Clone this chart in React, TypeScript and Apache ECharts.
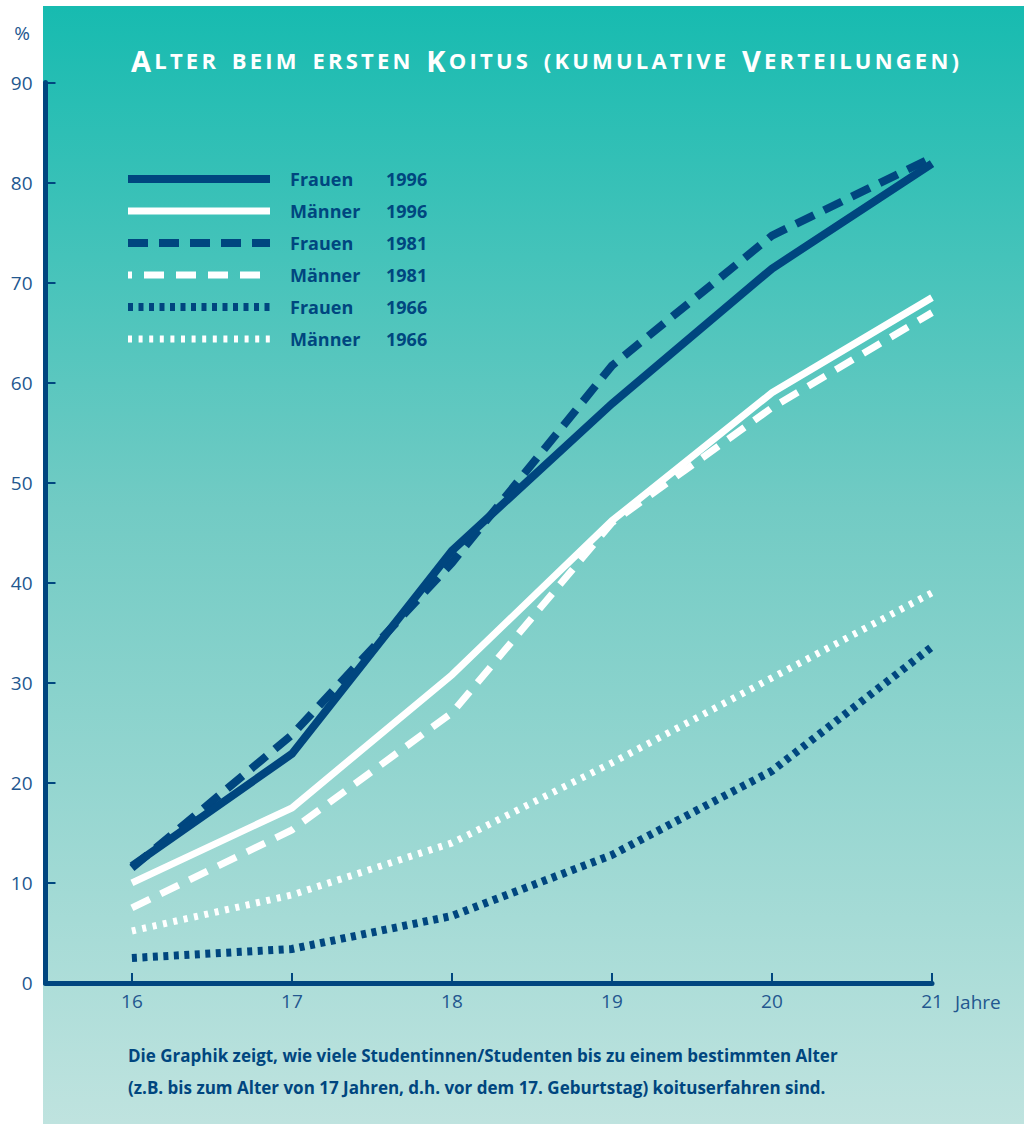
import React, { useEffect, useRef } from "react";
import * as echarts from "echarts";

// Age in years (x) and cumulative share in percent (y)
const ages = [16, 17, 18, 19, 20, 21];
const frauen1996 = [11.7, 22.9, 43.2, 57.9, 71.4, 81.9];
const maenner1996 = [10.0, 17.5, 30.8, 46.2, 59.0, 68.5];
const frauen1981 = [11.5, 24.8, 42.0, 61.7, 74.7, 82.5];
const maenner1981 = [7.5, 15.3, 27.0, 46.0, 57.5, 67.0];
const frauen1966 = [2.5, 3.4, 6.7, 12.8, 21.2, 33.6];
const maenner1966 = [5.2, 8.8, 14.0, 22.0, 30.5, 39.0];

const seriesNames = ["Frauen", "Männer", "Frauen", "Männer", "Frauen", "Männer"];
const seriesYears = ["1996", "1996", "1981", "1981", "1966", "1966"];
const seriesValues = [frauen1996, maenner1996, frauen1981, maenner1981, frauen1966, maenner1966];

const titleText = "Alter beim ersten Koitus (kumulative Verteilungen)";
const noteLines = [
  "Die Graphik zeigt, wie viele Studentinnen/Studenten bis zu einem bestimmten Alter",
  "(z.B. bis zum Alter von 17 Jahren, d.h. vor dem 17. Geburtstag) koituserfahren sind.",
];

const BLUE = "#00467f";
const WHITE = "#ffffff";
const LABEL = "#23578f";
const FONT = "'Open Sans', 'Noto Sans', sans-serif";

// line look for each series: colour, width, dash pattern
const lineLooks: { color: string; width: number; dash: number[] | "solid" }[] = [
  { color: BLUE, width: 8, dash: "solid" },
  { color: WHITE, width: 7, dash: "solid" },
  { color: BLUE, width: 8, dash: [20, 11] },
  { color: WHITE, width: 7, dash: [20, 12] },
  { color: BLUE, width: 8, dash: [5, 5.5] },
  { color: WHITE, width: 7, dash: [4, 6.6] },
];

// Small caps with tracking: each letter is its own rich token; capitals are
// drawn large, lower-case letters as smaller capitals
function smallCaps(text: string): string {
  let out = "";
  for (const ch of text) {
    const isCap = ch !== ch.toLowerCase() && ch === ch.toUpperCase();
    const style = ch === " " ? "w" : isCap ? "b" : "s";
    out += `{${style}|${isCap ? ch : ch.toUpperCase()}}`;
  }
  return out;
}

export default function App() {
  const ref = useRef<HTMLDivElement>(null);

  useEffect(() => {
    document.body.style.margin = "0";
    if (!ref.current) return;
    const chart = echarts.init(ref.current, null, { renderer: "svg" });

    const legendGraphics: any[] = [];
    seriesNames.forEach((name, i) => {
      const y = 179 + i * 32;
      const look = lineLooks[i];
      legendGraphics.push({
        type: "line",
        z: 50,
        shape: { x1: 128, y1: y, x2: 270, y2: y },
        style: {
          stroke: look.color,
          lineWidth: look.width,
          lineDash: look.dash === "solid" ? null : look.dash,
          lineDashOffset: i === 3 ? 16 : 0,
        },
      });
      legendGraphics.push({
        type: "text",
        z: 50,
        x: 290,
        y,
        style: {
          text: name,
          fill: BLUE,
          font: `bold 18px ${FONT}`,
          textVerticalAlign: "middle",
        },
      });
      legendGraphics.push({
        type: "text",
        z: 50,
        x: 386,
        y,
        style: {
          text: seriesYears[i],
          fill: BLUE,
          font: `bold 18px ${FONT}`,
          textVerticalAlign: "middle",
        },
      });
    });

    const titleToken = (size: number, pad: number) => ({
      fontSize: size,
      fontWeight: "bold",
      fontFamily: FONT,
      fill: WHITE,
      padding: [0, pad, 0, pad],
    });

    const option: any = {
      animation: false,
      grid: {
        left: 45.5,
        right: 92,
        top: 82.5,
        bottom: 141,
        outerBoundsMode: "none",
      },
      xAxis: {
        type: "value",
        min: 15.46,
        max: 21,
        splitLine: { show: false },
        axisLine: { onZero: false, lineStyle: { color: BLUE, width: 5 } },
        axisTick: {
          inside: true,
          length: 10,
          customValues: ages,
          lineStyle: { color: BLUE, width: 2 },
        },
        axisLabel: {
          customValues: ages,
          margin: 8,
          color: LABEL,
          fontSize: 19,
          fontFamily: FONT,
        },
      },
      yAxis: {
        type: "value",
        min: 0,
        max: 90,
        interval: 10,
        splitLine: { show: false },
        axisLine: { show: true, onZero: false, lineStyle: { color: BLUE, width: 5 } },
        axisTick: { show: true, inside: true, length: 10, lineStyle: { color: BLUE, width: 2 } },
        axisLabel: {
          margin: 13,
          color: LABEL,
          fontSize: 19,
          fontFamily: FONT,
        },
      },
      series: seriesValues.map((vals, i) => ({
        type: "line",
        name: `${seriesNames[i]} ${seriesYears[i]}`,
        data: vals.map((v, k) => [ages[k], v]),
        symbol: "none",
        z: 10 - i,
        lineStyle: {
          color: lineLooks[i].color,
          width: lineLooks[i].width,
          type: lineLooks[i].dash,
          cap: "butt",
          join: "miter",
        },
      })),
      graphic: [
        {
          type: "rect",
          z: -100,
          silent: true,
          shape: { x: 43, y: 6, width: 981, height: 1118 },
          style: {
            fill: new echarts.graphic.LinearGradient(0, 0, 0, 1, [
              { offset: 0, color: "#17bbb0" },
              { offset: 0.45, color: "#72cbc4" },
              { offset: 1, color: "#bfe3df" },
            ]),
          },
        },
        {
          type: "text",
          z: 50,
          x: 545,
          y: 60,
          style: {
            text: smallCaps(titleText),
            textAlign: "center",
            textVerticalAlign: "middle",
            fill: WHITE,
            rich: {
              b: titleToken(29, 1.6),
              s: titleToken(22, 1.6),
              w: titleToken(22, 3.5),
            },
          },
        },
        {
          type: "text",
          z: 50,
          x: 22,
          y: 33,
          style: {
            text: "%",
            textAlign: "center",
            textVerticalAlign: "middle",
            fill: LABEL,
            font: `19px ${FONT}`,
          },
        },
        {
          type: "text",
          z: 50,
          x: 955,
          y: 1002,
          style: {
            text: "Jahre",
            textVerticalAlign: "middle",
            fill: LABEL,
            font: `19px ${FONT}`,
          },
        },
        ...noteLines.map((line, i) => ({
          type: "text",
          z: 50,
          x: 128,
          y: 1055 + i * 32,
          style: {
            text: line,
            textVerticalAlign: "middle",
            fill: BLUE,
            font: `bold 17px ${FONT}`,
          },
        })),
        ...legendGraphics,
      ],
    };

    chart.setOption(option);
    return () => chart.dispose();
  }, []);

  return <div ref={ref} style={{ width: 1024, height: 1124 }} />;
}
